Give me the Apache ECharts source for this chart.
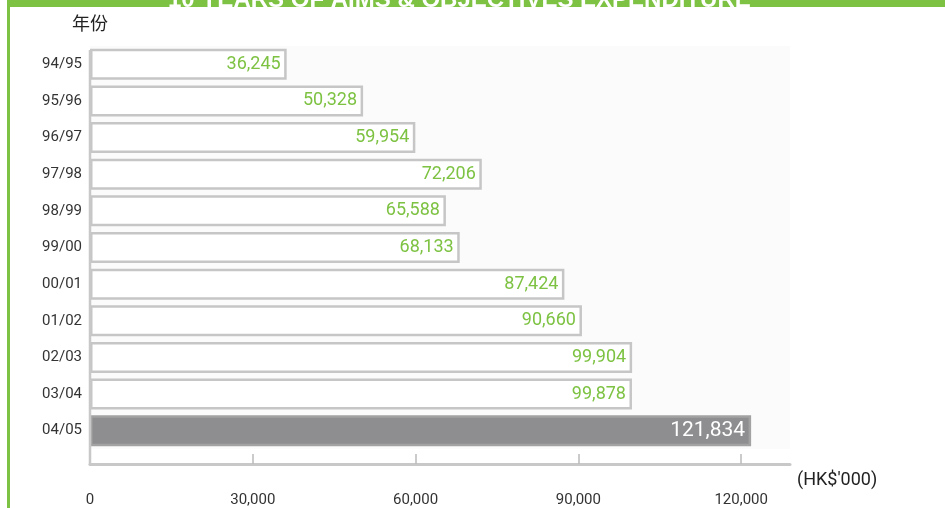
<!DOCTYPE html>
<html>
<head>
<meta charset="utf-8">
<script src="https://cdn.jsdelivr.net/npm/echarts@6/dist/echarts.min.js"></script>
<style>
  html, body { margin: 0; padding: 0; background: #fff; }
  #main { width: 945px; height: 508px; }
</style>
</head>
<body>
<div id="main"></div>
<script>
  // 年份 / 开支 (HK$'000)
  var years = ['94/95', '95/96', '96/97', '97/98', '98/99', '99/00', '00/01', '01/02', '02/03', '03/04', '04/05'];
  var spending = [36245, 50328, 59954, 72206, 65588, 68133, 87424, 90660, 99904, 99878, 121834];
  var xTicks = [0, 30000, 60000, 90000, 120000];

  var green = '#7dc242';
  var lastIdx = spending.length - 1;

  var barData = spending.map(function (v, i) {
    if (i === lastIdx) {
      return {
        value: v,
        itemStyle: { color: '#8e8e90', borderColor: '#a2a2a2' },
        label: { color: '#fff', fontSize: 21 }
      };
    }
    return v;
  });

  var myChart = echarts.init(document.getElementById('main'));
  myChart.setOption({
    animation: false,
    backgroundColor: '#fff',
    title: {
      text: '10 YEARS OF AIMS & OBJECTIVES EXPENDITURE',
      left: 163,
      top: -17,
      textStyle: { color: '#fff', fontSize: 24, fontWeight: 'bold', fontFamily: 'Liberation Sans' }
    },
    grid: {
      left: 90,
      right: 155,
      top: 46,
      bottom: 58,
      show: true,
      backgroundColor: '#fbfbfb',
      borderWidth: 0
    },
    xAxis: {
      type: 'value',
      min: 0,
      max: 129000,
      interval: 30000,
      offset: 15,
      splitLine: { show: false },
      axisLine: { show: true, lineStyle: { color: '#c8c8c8', width: 3 } },
      axisTick: { show: true, inside: true, length: 10, lineStyle: { color: '#bbb', width: 1.5 } },
      axisLabel: {
        margin: 29,
        fontSize: 15,
        color: '#333',
        fontFamily: 'Roboto',
        showMaxLabel: false,
        formatter: function (v) {
          return xTicks.indexOf(v) >= 0 ? v.toLocaleString('en-US') : '';
        }
      },
      name: "(HK$'000)",
      nameLocation: 'end',
      nameGap: 7,
      nameTextStyle: { fontSize: 18, color: '#222', fontFamily: 'Roboto', verticalAlign: 'top', lineHeight: 32 }
    },
    yAxis: {
      type: 'category',
      inverse: true,
      data: years,
      axisLine: { show: false },
      axisTick: { show: false },
      axisLabel: { margin: 8, fontSize: 15, color: '#333', fontFamily: 'Roboto' },
      name: '年份',
      nameLocation: 'start',
      nameGap: 14,
      nameTextStyle: { fontSize: 18, color: '#222', fontFamily: 'Noto Sans CJK SC', align: 'center' }
    },
    series: [{
      type: 'bar',
      data: barData,
      barWidth: 31,
      itemStyle: { color: '#fff', borderColor: '#c6c6c6', borderWidth: 2.5 },
      label: {
        show: true,
        position: 'insideRight',
        distance: 6,
        color: green,
        fontSize: 18,
        fontFamily: 'Roboto',
        formatter: function (p) { return p.value.toLocaleString('en-US'); }
      }
    }]
  });

  // frame and vertical axis line
  var x0 = myChart.convertToPixel({ xAxisIndex: 0 }, 0);
  myChart.setOption({
    graphic: [
      { type: 'rect', z: -1, shape: { x: 7, y: 0, width: 938, height: 7 }, style: { fill: green } },
      { type: 'rect', z: 100, shape: { x: 7, y: 0, width: 3, height: 508 }, style: { fill: green } },
      { type: 'line', z: 50, shape: { x1: x0, y1: 50, x2: x0, y2: 465 }, style: { stroke: '#c8c8c8', lineWidth: 2.5 } }
    ]
  });
</script>
</body>
</html>
